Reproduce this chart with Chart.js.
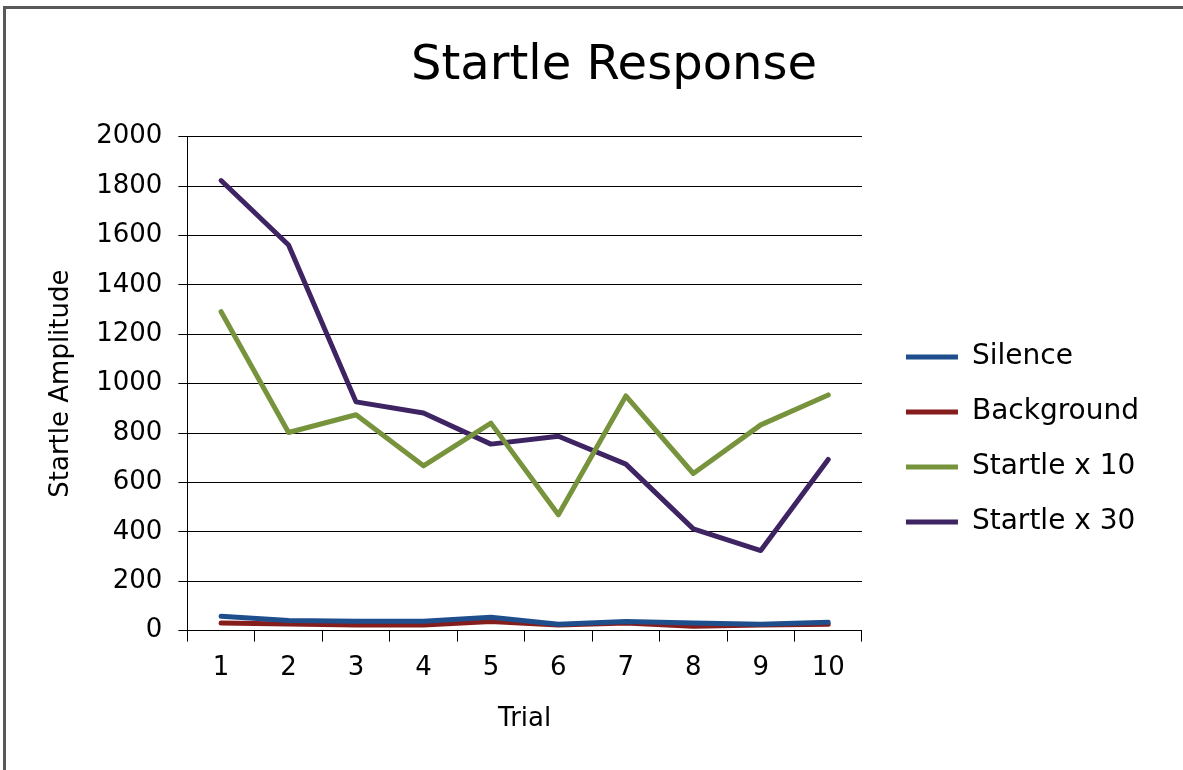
<!DOCTYPE html>
<html>
<head>
<meta charset="utf-8">
<script src="https://cdn.jsdelivr.net/npm/chart.js@4/dist/chart.umd.min.js"></script>
<style>
    html, body { margin: 0; padding: 0; background: #fff; overflow: hidden; }
    #wrap { position: relative; width: 1183px; height: 770px; }
    #frame {
        position: absolute; left: 3px; top: 6px; width: 1300px; height: 900px;
        border-left: 3px solid #595959; border-top: 3px solid #595959;
    }
    canvas { position: absolute; left: 0; top: 0; }
</style>
</head>
<body>
<div id="wrap">
    <div id="frame"></div>
    <canvas id="startleChart" width="1183" height="770"></canvas>
</div>
<script>
const trials = ['1', '2', '3', '4', '5', '6', '7', '8', '9', '10'];
const silence = [58, 41, 38, 38, 54, 26, 37, 31, 26, 34];
const background = [31, 27, 23, 23, 37, 23, 31, 18, 23, 26];
const startle10 = [1291, 802, 874, 667, 840, 469, 950, 636, 833, 954];
const startle30 = [1822, 1561, 926, 881, 755, 787, 674, 412, 324, 693];

const FONT = 'DejaVu Sans';

// shift legend and title after layout so they sit where the original has them
const nudge = {
    id: 'nudge',
    afterLayout(chart) {
        const lg = chart.legend;
        lg.left += 17; lg.right += 17;
        lg.top += 56; lg.bottom += 56;
        const tb = chart.titleBlock;
        tb.left += 33; tb.right += 33;
    }
};

function series(label, data, color) {
    return {
        label: label,
        data: data,
        borderColor: color,
        backgroundColor: color,
        borderWidth: 5,
        borderCapStyle: 'round',
        borderJoinStyle: 'round',
        pointRadius: 0,
        pointHoverRadius: 0,
        tension: 0,
        fill: false
    };
}

new Chart(document.getElementById('startleChart').getContext('2d'), {
    type: 'line',
    data: {
        labels: trials,
        datasets: [
            series('Silence', silence, '#1f4e8c'),
            series('Background', background, '#861d1d'),
            series('Startle x 10', startle10, '#77933c'),
            series('Startle x 30', startle30, '#3e2463')
        ]
    },
    plugins: [nudge],
    options: {
        responsive: false,
        animation: false,
        layout: { padding: { left: 30, right: 51, top: 7, bottom: 10 } },
        plugins: {
            title: {
                display: true,
                text: 'Startle Response',
                color: '#000',
                font: { family: FONT, size: 48, weight: 'normal' },
                padding: { top: 31, bottom: 41 }
            },
            legend: {
                position: 'right',
                labels: {
                    usePointStyle: true,
                    pointStyle: 'line',
                    pointStyleWidth: 52,
                    padding: 27,
                    color: '#000',
                    font: { family: FONT, size: 28 }
                }
            },
            tooltip: { enabled: false }
        },
        scales: {
            x: {
                offset: true,
                grid: {
                    display: true,
                    drawOnChartArea: false,
                    color: '#000',
                    tickColor: '#000',
                    tickLength: 11,
                    offset: true
                },
                border: { color: '#000', width: 1 },
                ticks: {
                    color: '#000',
                    font: { family: FONT, size: 26 },
                    padding: 11,
                    maxRotation: 0
                },
                title: {
                    display: true,
                    text: 'Trial',
                    color: '#000',
                    font: { family: FONT, size: 26 },
                    padding: { top: 9, bottom: 25 }
                }
            },
            y: {
                min: 0,
                max: 2000,
                grid: {
                    color: '#000',
                    tickColor: '#000',
                    lineWidth: 1,
                    tickLength: 9
                },
                border: { color: '#000', width: 1 },
                ticks: {
                    stepSize: 200,
                    color: '#000',
                    font: { family: FONT, size: 26 },
                    padding: 16,
                    callback: value => String(value)
                },
                title: {
                    display: true,
                    text: 'Startle Amplitude',
                    color: '#000',
                    font: { family: FONT, size: 26 },
                    padding: { top: 16, bottom: 3 }
                }
            }
        }
    }
});
</script>
</body>
</html>
